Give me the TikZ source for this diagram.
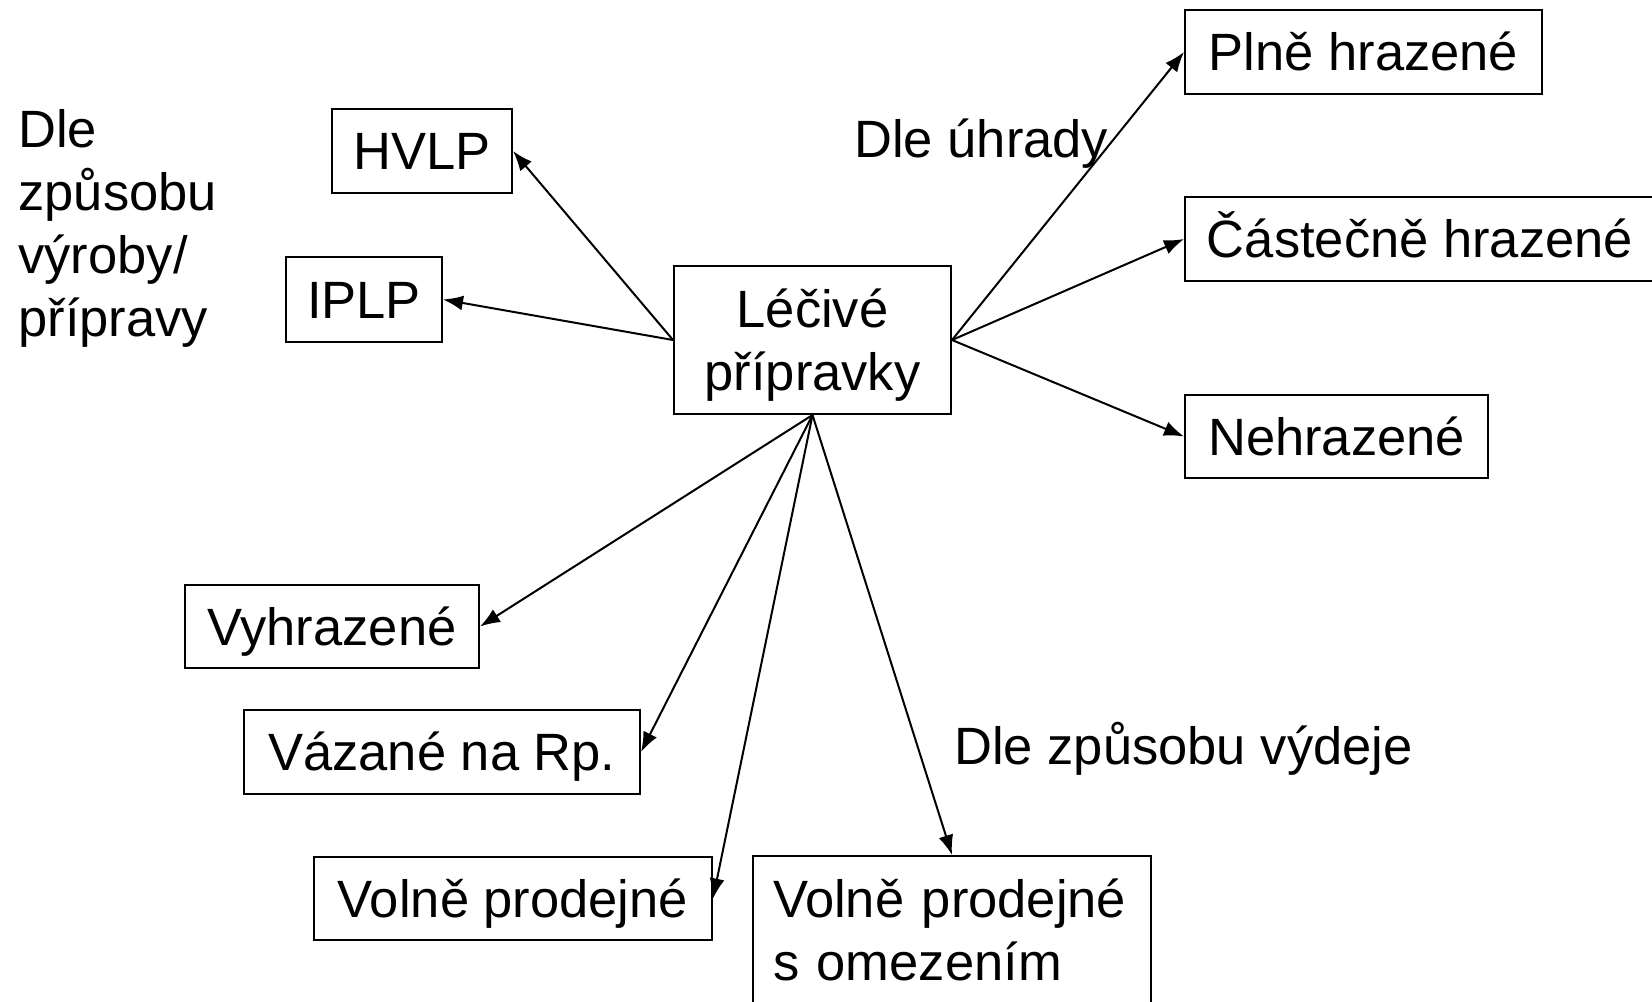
\documentclass[tikz,border=0pt]{standalone}
\usepackage{fontspec}
\setmainfont{Liberation Sans}
\usetikzlibrary{arrows.meta}
\begin{document}
\begin{tikzpicture}[x=0.5pt,y=-0.5pt,
  every node/.style={font=\fontsize{26.25}{31.5}\selectfont, inner sep=0pt},
  box/.style={draw, line width=1pt, rectangle, align=center},
  onebox/.style={box, text height=18.8pt, text depth=0pt},
  lbl/.style={anchor=base west, align=left},
  conn/.style={line width=1pt, -{Latex[length=10pt,width=7.5pt]}}]
\useasboundingbox (0,0) rectangle (1652,1001);

\node[box, text depth=0pt, minimum width=277*0.5pt, minimum height=148*0.5pt] (lp) at (812.5,340) {Léčivé\\přípravky};

\node[onebox, minimum width=180*0.5pt, minimum height=84*0.5pt] (hvlp) at (422,151) {HVLP};
\node[onebox, minimum width=156*0.5pt, minimum height=85*0.5pt] (iplp) at (364,299.5) {IPLP};

\node[onebox, minimum width=357*0.5pt, minimum height=84*0.5pt] (plne) at (1363.5,52) {Plně hrazené};
\node[onebox, minimum width=470*0.5pt, minimum height=84*0.5pt] (cast) at (1420,239) {Částečně hrazené};
\node[onebox, minimum width=303*0.5pt, minimum height=83*0.5pt] (neh) at (1336.5,436.5) {Nehrazené};

\node[onebox, minimum width=294*0.5pt, minimum height=83*0.5pt] (vyhr) at (332,626.5) {Vyhrazené};
\node[onebox, minimum width=396*0.5pt, minimum height=84*0.5pt] (vaz) at (442,752) {Vázané na Rp.};
\node[onebox, minimum width=398*0.5pt, minimum height=83*0.5pt] (voln) at (513,898.5) {Volně prodejné};
\node[box, align=left, text width=358*0.5pt, inner xsep=20*0.5pt, minimum height=148*0.5pt] (volom) at (952,930) {Volně prodejné\\s omezením};

\node[lbl] (t1) at (18,336) {Dle\\způsobu\\výroby/\\přípravy};
\node[lbl] (t2) at (854,157) {Dle úhrady};
\node[lbl] (t3) at (954,764) {Dle způsobu výdeje};

\draw[conn] (lp.west) -- (hvlp.east);
\draw[conn] (lp.west) -- (iplp.east);
\draw[conn] (lp.east) -- (plne.west);
\draw[conn] (lp.east) -- (cast.west);
\draw[conn] (lp.east) -- (neh.west);
\draw[conn] (lp.south) -- (vyhr.east);
\draw[conn] (lp.south) -- (vaz.east);
\draw[conn] (lp.south) -- (voln.east);
\draw[conn] (lp.south) -- (volom.north);
\end{tikzpicture}
\end{document}
